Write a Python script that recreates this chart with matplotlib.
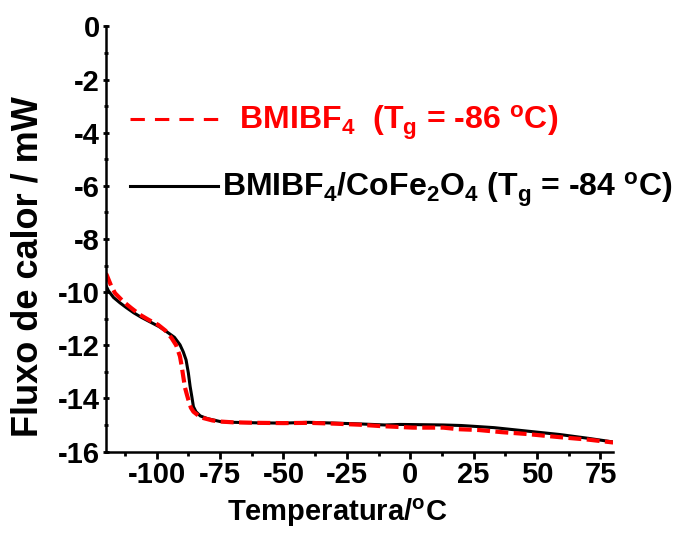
import matplotlib
matplotlib.use("Agg")
import matplotlib.pyplot as plt
from matplotlib.ticker import MultipleLocator
from matplotlib.lines import Line2D

plt.rcParams['font.family'] = ['Liberation Sans', 'DejaVu Sans']
plt.rcParams['font.weight'] = 'bold'
plt.rcParams['mathtext.fontset'] = 'custom'
plt.rcParams['mathtext.rm'] = 'Liberation Sans:bold'
plt.rcParams['mathtext.bf'] = 'Liberation Sans:bold'
plt.rcParams['mathtext.default'] = 'bf'
plt.rcParams['axes.unicode_minus'] = False

# BMIBF4/CoFe2O4 (black solid)
temp_composite = [-120, -119, -117, -114.5, -112, -109, -106, -102.6, -99, -95.9, -93,
                  -90.8, -89.5, -88.4, -87.5, -86.8, -86.1, -85.5, -84.5, -82.8, -80,
                  -75, -70, -60, -50, -40, -30, -20, -10, -4, 5, 13, 20, 25, 33, 43,
                  51, 59, 70, 80]
flux_composite = [-9.75, -9.95, -10.2, -10.4, -10.58, -10.78, -10.95, -11.12, -11.3, -11.5, -11.7,
                  -11.98, -12.25, -12.55, -13.04, -13.55, -13.95, -14.31, -14.5, -14.66, -14.76,
                  -14.87, -14.9, -14.92, -14.93, -14.9, -14.93, -14.96, -15.0, -14.98, -14.99, -15.0,
                  -15.02, -15.05, -15.1, -15.2, -15.28, -15.36, -15.5, -15.64]

# BMIBF4 (red dashed)
temp_pure = [-120, -119.7, -118, -116.4, -113.2, -110, -106.6, -103, -99.4, -96.5, -94.1,
             -92.3, -90.8, -90.1, -89.5, -88.8, -88.1, -87.5, -86.5, -85.5, -83.5, -81.6,
             -78, -75, -70, -60, -50, -40, -30, -20, -12, 1, 13, 19, 27, 36, 46, 53.5,
             59, 70, 80]
flux_pure = [-9.3, -9.35, -9.75, -10.04, -10.35, -10.6, -10.85, -11.05, -11.23, -11.45, -11.73,
             -12.0, -12.42, -12.8, -13.18, -13.6, -13.85, -14.05, -14.35, -14.5, -14.65, -14.74,
             -14.83, -14.87, -14.9, -14.92, -14.93, -14.92, -14.95, -14.99, -15.04, -15.1, -15.1,
             -15.16, -15.19, -15.27, -15.34, -15.41, -15.46, -15.55, -15.66]

label_pure = r'  BMIBF$_4$  (T$_g$ = -86 $^o$C)'
label_composite = r'BMIBF$_4$/CoFe$_2$O$_4$ (T$_g$ = -84 $^o$C)'

x_ticks = [-100, -75, -50, -25, 0, 25, 50, 75]
y_ticks = [0, -2, -4, -6, -8, -10, -12, -14, -16]

fig = plt.figure(figsize=(6.79, 5.52), dpi=100)
ax = fig.add_axes([0.156, 0.182, 0.747, 0.770])

ax.plot(temp_composite, flux_composite, color='black', lw=2.2, solid_capstyle='round')
ax.plot(temp_pure, flux_pure, color='#ff0000', lw=3.0, dashes=(3.1, 1.3))

ax.set_xlim(-120, 80)
ax.set_ylim(-16, 0)
ax.set_xticks(x_ticks)
ax.set_yticks(y_ticks)
ax.xaxis.set_minor_locator(MultipleLocator(12.5))
ax.yaxis.set_minor_locator(MultipleLocator(1))

for s in ['top', 'right']:
    ax.spines[s].set_visible(False)
for s in ['left', 'bottom']:
    ax.spines[s].set_linewidth(1.8)

ax.tick_params(axis='both', which='major', direction='out', length=5, width=2,
               labelsize=21, pad=2)
ax.tick_params(axis='both', which='minor', direction='out', length=3, width=2)
ax.tick_params(axis='y', which='both', direction='inout')
for lab in ax.get_xticklabels() + ax.get_yticklabels():
    lab.set_fontweight('bold')

ax.set_xlabel('Temperatura/$^o$C', fontsize=21, fontweight='bold', va='center')
ax.xaxis.set_label_coords(0.456, -0.145)
ax.set_ylabel('Fluxo de calor / mW', fontsize=26, fontweight='bold', va='center')
ax.yaxis.set_label_coords(-0.154, 0.435)

handles = [Line2D([], [], color='#ff0000', lw=2.2, dashes=(4.7, 3.3)),
           Line2D([], [], color='black', lw=2.2)]
leg = ax.legend(handles, [label_pure, label_composite], loc='upper left',
                bbox_to_anchor=(0.047, 0.818), frameon=False, fontsize=23,
                handlelength=2.75, handletextpad=0.15, labelspacing=0.9,
                borderpad=0, borderaxespad=0)
leg.get_texts()[0].set_color('#ff0000')
leg.get_texts()[1].set_color('black')

fig.savefig('out.png', dpi=100)
